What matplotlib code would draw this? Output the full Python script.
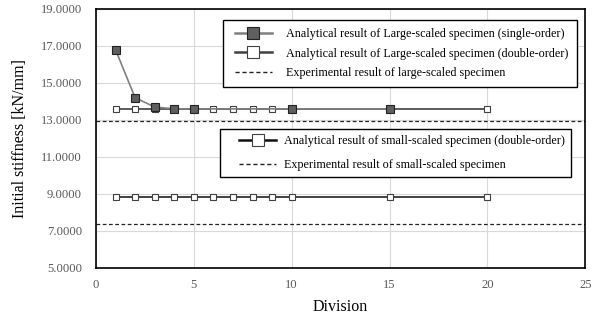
import matplotlib
matplotlib.use("Agg")
import matplotlib.pyplot as plt
from matplotlib.lines import Line2D
from matplotlib.legend_handler import HandlerLine2D

plt.rcParams['font.family'] = ['Liberation Serif', 'DejaVu Serif']

div_single = [1, 2, 3, 4, 5, 10, 15]
large_single = [16.8, 14.2, 13.7, 13.6, 13.6, 13.6, 13.6]
div_double = [1, 2, 3, 4, 5, 6, 7, 8, 9, 10, 15, 20]
large_double = [13.6] * 12
small_double = [8.85] * 12
exp_large = 12.95
exp_small = 7.4

fig = plt.figure(figsize=(5.96, 3.19), dpi=100)
ax = fig.add_axes([0.161, 0.16, 0.821, 0.812])

ax.plot(div_single, large_single, color='#808080', lw=1.2, marker='s', ms=5.5,
        mfc='#5f5f5f', mec='#222222', mew=0.8, zorder=4)
ax.plot(div_double, large_double, color='#404040', lw=1.2, marker='s', ms=5,
        mfc='white', mec='#404040', mew=0.8, zorder=3)
ax.axhline(exp_large, color='#222222', lw=0.9, ls=(0, (3, 2)))
ax.plot(div_double, small_double, color='#222222', lw=1.2, marker='s', ms=5,
        mfc='white', mec='#404040', mew=0.8, zorder=3)
ax.axhline(exp_small, color='#222222', lw=0.9, ls=(0, (3, 2)))

ax.set_xlim(0, 25)
ax.set_ylim(5, 19)
ax.set_xticks([0, 5, 10, 15, 20, 25])
ax.set_yticks([5, 7, 9, 11, 13, 15, 17, 19])
ax.set_yticklabels([f"{v:.4f}" for v in [5, 7, 9, 11, 13, 15, 17, 19]])
ax.grid(True, color='#d9d9d9', lw=0.8)
ax.set_axisbelow(True)
ax.tick_params(axis='y', length=0, labelsize=9.1, colors='#595959', pad=10)
ax.tick_params(axis='x', length=0, labelsize=9.1, colors='#595959', pad=8)
for s in ax.spines.values():
    s.set_color('black')
    s.set_linewidth(1.2)
ax.set_xlabel('Division', fontsize=11.5, labelpad=6)
ax.set_ylabel('Initial stiffness [kN/mm]', fontsize=11.5, labelpad=9)

fs = 8.7
h1 = Line2D([], [], color='#808080', lw=1.8, marker='s', ms=8, mfc='#5f5f5f', mec='#222222', mew=0.8)
h2 = Line2D([], [], color='#404040', lw=1.8, marker='s', ms=8, mfc='white', mec='#404040', mew=0.8)
h3 = Line2D([], [], color='#222222', lw=1.0, ls=(0, (3, 2)))
hm1 = {h: HandlerLine2D(xpad=0.33) for h in (h1, h2, h3)}
leg1 = ax.legend([h1, h2, h3],
                 ['Analytical result of Large-scaled specimen (single-order)',
                  'Analytical result of Large-scaled specimen (double-order)',
                  'Experimental result of large-scaled specimen'],
                 handler_map=hm1,
                 loc='upper left', bbox_to_anchor=(0.26, 0.958), fontsize=fs,
                 fancybox=False, edgecolor='black', framealpha=1, handlelength=3.36,
                 handletextpad=1.2, borderpad=0.66, labelspacing=0.65, borderaxespad=0)
leg1.get_frame().set_linewidth(1.0)
ax.add_artist(leg1)
h4 = Line2D([], [], color='#111111', lw=1.8, marker='s', ms=8, mfc='white', mec='#404040', mew=0.8)
h5 = Line2D([], [], color='#222222', lw=1.0, ls=(0, (3, 2)))
hm2 = {h: HandlerLine2D(xpad=1.07) for h in (h4, h5)}
leg2 = ax.legend([h4, h5],
                 ['Analytical result of small-scaled specimen (double-order)',
                  'Experimental result of small-scaled specimen'],
                 handler_map=hm2,
                 loc='upper left', bbox_to_anchor=(0.254, 0.537), fontsize=fs,
                 fancybox=False, edgecolor='black', framealpha=1, handlelength=4.1,
                 handletextpad=0.7, borderpad=0.5, labelspacing=1.0, borderaxespad=0)
leg2.get_frame().set_linewidth(1.0)

fig.savefig('out.png', dpi=100)
